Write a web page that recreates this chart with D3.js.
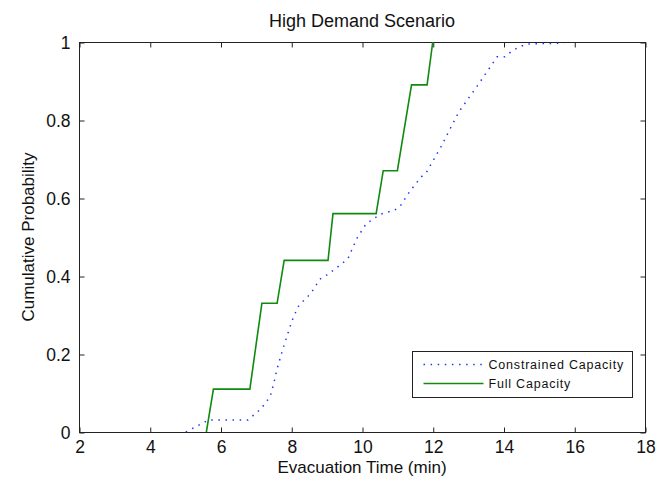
<!DOCTYPE html>
<html>
<head>
<meta charset="utf-8">
<script src="https://cdn.jsdelivr.net/npm/d3@7"></script>
<style>
  body { margin: 0; background: #fff; }
  svg { display: block; font-family: "Liberation Sans", Arial, sans-serif; }
</style>
</head>
<body>
<svg id="chart"></svg>
<script>
const width = 656;
const height = 480;
const margin = { top: 42, right: 11, bottom: 48, left: 79 };

// Full capacity (step-like CDF)
const fullTime = [5.6, 5.8, 6.83, 7.17, 7.6, 7.8, 9.04, 9.18, 10.4, 10.6, 11.0, 11.4, 11.84, 12.0];
const fullProb = [0, 0.11, 0.11, 0.33, 0.33, 0.44, 0.44, 0.56, 0.56, 0.67, 0.67, 0.89, 0.89, 1];

// Constrained capacity (smoother CDF)
const consTime = [5.02, 5.67, 6.78, 7.14, 7.4, 7.51, 7.6, 7.77, 8.02, 8.19, 8.36, 8.56, 8.81, 9.01, 9.24,
                  9.6, 9.86, 10.11, 10.31, 10.54, 10.93, 11.1, 11.36, 11.67, 11.81, 12.23, 12.74, 13.28,
                  13.82, 14.04, 14.24, 14.44, 14.66, 15.71];
const consProb = [0, 0.031, 0.031, 0.059, 0.09, 0.126, 0.162, 0.215, 0.285, 0.321, 0.338, 0.356, 0.392, 0.403, 0.418,
                  0.444, 0.497, 0.533, 0.546, 0.559, 0.569, 0.582, 0.618, 0.654, 0.664, 0.731, 0.821, 0.89,
                  0.962, 0.962, 0.977, 0.987, 0.995, 0.997];

const xTicks = [2, 4, 6, 8, 10, 12, 14, 16, 18];
const yTicks = [0, 0.2, 0.4, 0.6, 0.8, 1];

const seriesNames = ["Constrained Capacity", "Full Capacity"];

const svg = d3.select("#chart")
  .attr("width", width)
  .attr("height", height);

const x = d3.scaleLinear().domain([2, 18]).range([margin.left, width - margin.right]);
const y = d3.scaleLinear().domain([0, 1]).range([height - margin.bottom, margin.top]);

const line = d3.line().x(d => x(d[0])).y(d => y(d[1]));

// box
svg.append("rect")
  .attr("x", x(2) + 0.5)
  .attr("y", y(1) + 0.5)
  .attr("width", x(18) - x(2))
  .attr("height", y(0) - y(1))
  .attr("fill", "none")
  .attr("stroke", "#222")
  .attr("stroke-width", 1);

// axes, ticks inward
const fmt = d => d3.format("")(d);
const tickLen = 5;

svg.append("g")
  .attr("transform", "translate(0.5," + (y(0) + 0.5) + ")")
  .call(d3.axisBottom(x).tickValues(xTicks).tickFormat(fmt).tickSizeInner(-tickLen).tickSizeOuter(0).tickPadding(8))
  .call(g => g.select(".domain").remove());

svg.append("g")
  .attr("transform", "translate(0.5," + (y(1) + 0.5) + ")")
  .call(d3.axisTop(x).tickValues(xTicks).tickFormat("").tickSizeInner(-tickLen).tickSizeOuter(0))
  .call(g => g.select(".domain").remove());

svg.append("g")
  .attr("transform", "translate(" + (x(2) + 0.5) + ",0.5)")
  .call(d3.axisLeft(y).tickValues(yTicks).tickFormat(fmt).tickSizeInner(-tickLen).tickSizeOuter(0).tickPadding(9))
  .call(g => g.select(".domain").remove());

svg.append("g")
  .attr("transform", "translate(" + (x(18) + 0.5) + ",0.5)")
  .call(d3.axisRight(y).tickValues(yTicks).tickFormat("").tickSizeInner(-tickLen).tickSizeOuter(0))
  .call(g => g.select(".domain").remove());

svg.selectAll(".tick line").attr("stroke", "#222");
svg.selectAll(".tick text")
  .attr("fill", "#111")
  .style("font-family", "'Liberation Sans', Arial, sans-serif")
  .style("font-size", "17.5px");

// series
svg.append("path")
  .datum(consTime.map((t, i) => [t, consProb[i]]))
  .attr("d", line)
  .attr("fill", "none")
  .attr("stroke", "#2233ff")
  .attr("stroke-width", 1.5)
  .attr("stroke-dasharray", "1.5,5.6");

svg.append("path")
  .datum(fullTime.map((t, i) => [t, fullProb[i]]))
  .attr("d", line)
  .attr("fill", "none")
  .attr("stroke", "#108a10")
  .attr("stroke-width", 1.6);

// title and labels
svg.append("text")
  .attr("x", (x(2) + x(18)) / 2)
  .attr("y", 27)
  .attr("text-anchor", "middle")
  .style("font-size", "18px")
  .attr("fill", "#111")
  .text("High Demand Scenario");

svg.append("text")
  .attr("x", (x(2) + x(18)) / 2)
  .attr("y", 473)
  .attr("text-anchor", "middle")
  .style("font-size", "17px")
  .attr("fill", "#111")
  .text("Evacuation Time (min)");

svg.append("text")
  .attr("transform", "translate(34," + (y(0.5)) + ") rotate(-90)")
  .attr("text-anchor", "middle")
  .style("font-size", "17px")
  .attr("fill", "#111")
  .text("Cumulative Probability");

// legend
const legend = svg.append("g").attr("transform", "translate(412.5,351.5)");
legend.append("rect")
  .attr("width", 220)
  .attr("height", 46)
  .attr("fill", "#fff")
  .attr("stroke", "#222");

const legendStyles = [
  { stroke: "#2233ff", dash: "1.5,5.6", w: 1.5 },
  { stroke: "#108a10", dash: null, w: 1.6 }
];

seriesNames.forEach((name, i) => {
  const ly = 13 + i * 19;
  legend.append("line")
    .attr("x1", 11).attr("x2", 71)
    .attr("y1", ly).attr("y2", ly)
    .attr("stroke", legendStyles[i].stroke)
    .attr("stroke-width", legendStyles[i].w)
    .attr("stroke-dasharray", legendStyles[i].dash);
  legend.append("text")
    .attr("x", 76)
    .attr("y", ly + 4)
    .style("font-size", "12.5px")
    .style("letter-spacing", "0.8px")
    .attr("fill", "#111")
    .text(name);
});
</script>
</body>
</html>
